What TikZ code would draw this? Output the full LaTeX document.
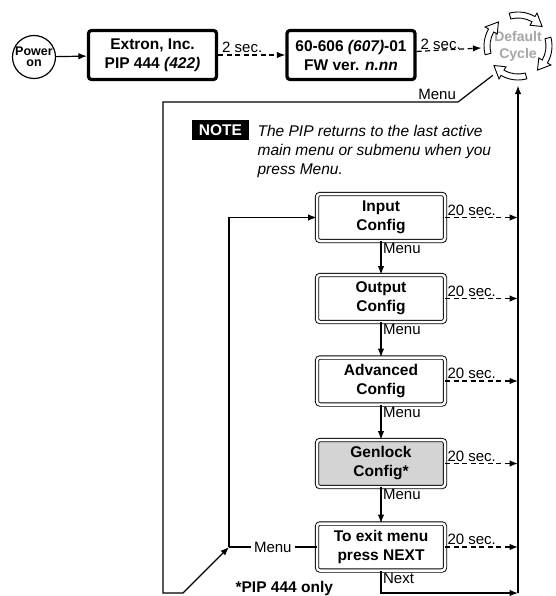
\documentclass[tikz,border=0pt]{standalone}
\usepackage{fontspec}
\setmainfont{Liberation Sans}
\usetikzlibrary{arrows.meta}

\begin{document}
\begin{tikzpicture}[x=1pt, y=-1pt, line width=1.2pt,
  every node/.style={font=\fontsize{15}{19}\selectfont},
  >={Latex[length=8.5pt,width=6.5pt]},
  lbl/.style={inner sep=1.5pt},
  topbox/.style={draw, line width=3.2pt, rounded corners=3pt, minimum width=128pt,
    minimum height=49pt, align=center, font=\fontsize{15.5}{19}\selectfont\bfseries},
  cfgbox/.style={draw, line width=0.9pt, double, double distance=2.5pt, rounded corners=3pt,
    minimum width=128pt, minimum height=47pt, align=center, font=\fontsize{15.5}{19}\selectfont\bfseries},
  tmo/.style={->, dash pattern=on 5pt off 3.5pt}]
  \useasboundingbox (0,0) rectangle (555,596);

  \node[circle, draw, minimum size=43pt, inner sep=0pt, align=center,
    font=\fontsize{12.5}{11}\selectfont\bfseries] (P) at (34,57) {Power\\on};
  \node[topbox] (E) at (152.5,55) {Extron, Inc.\\PIP 444 \textit{(422)}};
  \node[topbox] (F) at (351,55) {60-606 \textit{(607)}-01\\FW ver. \textit{n.nn}};
  \node[circle, minimum size=72pt, inner sep=0pt, align=center, text=black!35,
    font=\fontsize{14}{17}\selectfont\bfseries] (C) at (518,46) {Default\\Cycle};
  \begin{scope}[shift={(518,46)}, line width=0.9pt]
    \foreach \s in {-105,-15,75,165}
      \filldraw[fill=white] (\s:34) arc[start angle=\s, end angle=\s+45, radius=34]
        -- (\s+45:38) -- (\s+66:31) -- (\s+45:24) -- (\s+45:28)
        arc[start angle=\s+45, end angle=\s, radius=28] -- cycle;
  \end{scope}

  \node[fill=black, text=white, minimum width=57pt, minimum height=20pt, inner sep=0pt,
    font=\fontsize{15.5}{19}\selectfont\bfseries] (N) at (220.5,130) {NOTE};
  \node[anchor=north west, inner sep=0pt, align=left,
    font=\fontsize{15.5}{19}\selectfont\itshape] (Nt) at (257,125)
    {The PIP returns to the last active\\main menu or submenu when you\\press Menu.};

  \node[cfgbox] (In)  at (381,217.5) {Input\\Config};
  \node[cfgbox] (Out) at (381,298.5) {Output\\Config};
  \node[cfgbox] (Adv) at (381,381)   {Advanced\\Config};
  \node[cfgbox, fill=black!17] (Gen) at (381,463.5) {Genlock\\Config*};
  \node[cfgbox] (Ex)  at (381,547)   {To exit menu\\press NEXT};
  \node[anchor=base west, inner sep=0pt, font=\fontsize{15.5}{19}\selectfont\bfseries]
    (Fn) at (235,592) {*PIP 444 only};

  \coordinate (R0) at (518,593);
  \coordinate (Mb) at (458,102);
  \coordinate (L0) at (163,102);
  \coordinate (L1) at (163,593);
  \coordinate (L2) at (183,593);
  \coordinate (J)  at (229,547);

  \draw[->] (P) -- (E);
  \draw[tmo] (E) -- node[lbl, pos=0, anchor=south west, xshift=2pt] {2 sec.} (F);
  \draw[tmo] (F) -- node[lbl, pos=0, anchor=south west, xshift=2pt] {2 sec.} (C);
  \draw[->, shorten <=2pt] (C.-130) -- (Mb) node[lbl, anchor=south east] {Menu}
    -- (L0) -- (L1) -- (L2) -- (J);
  \draw (Ex) -- node[fill=white, inner sep=3pt] {Menu} (J);
  \draw[->] (J) |- (In);
  \foreach \a/\b in {In/Out, Out/Adv, Adv/Gen, Gen/Ex}
    \draw[->] (\a) -- node[lbl, pos=0, anchor=north west] {Menu} (\b);
  \foreach \n in {In, Out, Adv, Gen, Ex}
    \draw[tmo] (\n) -- node[lbl, pos=0, anchor=south west] {20 sec.} (\n -| R0);
  \draw[->] (Ex) |- node[lbl, pos=0, anchor=north west] {Next} (R0);
  \draw[->, shorten >=3pt] (R0) -- (C);
\end{tikzpicture}
\end{document}
